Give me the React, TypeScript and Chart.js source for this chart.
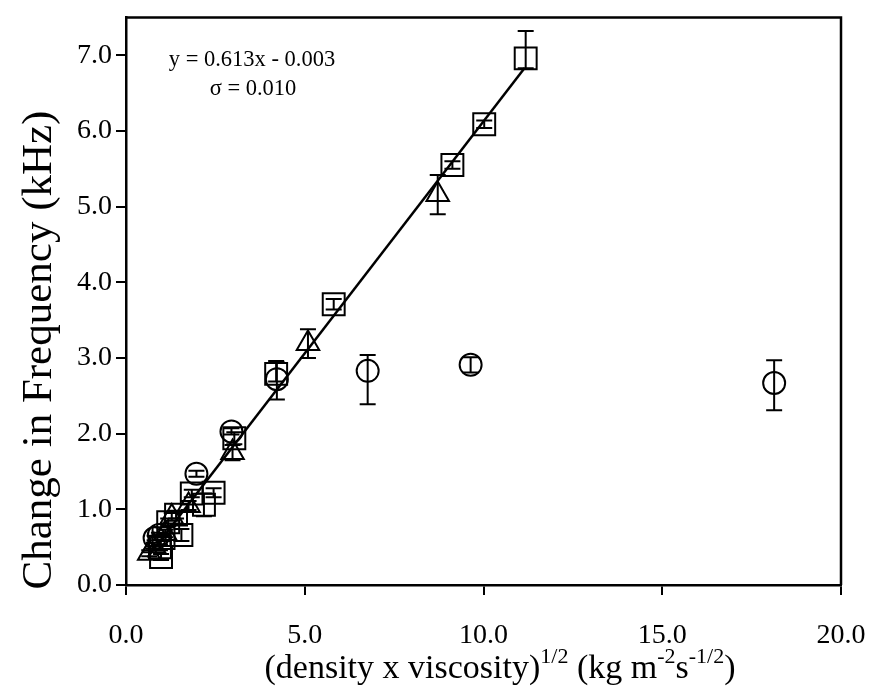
import React, { useEffect, useRef } from "react";
import { Chart, registerables } from "chart.js";

Chart.register(...registerables);

// ---- Data ----
const squareX = [0.98, 0.95, 1.05, 1.18, 1.40, 1.55, 2.18, 1.84, 2.45, 3.03, 4.20, 5.81, 9.13, 10.02, 11.18];
const squareY = [0.37, 0.50, 0.62, 0.83, 0.93, 0.66, 1.06, 1.21, 1.22, 1.94, 2.79, 3.71, 5.55, 6.09, 6.96];
const squareErrLow = [0.04, 0.04, 0.04, 0.05, 0.05, 0.08, 0.15, 0.05, 0.06, 0.08, 0.10, 0.07, 0.05, 0.05, 0.13];
const squareErrHigh = [0.04, 0.04, 0.04, 0.05, 0.05, 0.08, 0.15, 0.05, 0.06, 0.08, 0.17, 0.07, 0.05, 0.05, 0.36];

const circleX = [0.80, 0.92, 1.97, 2.95, 4.22, 6.76, 9.64, 18.13];
const circleY = [0.62, 0.66, 1.47, 2.03, 2.72, 2.83, 2.91, 2.67];
const circleErrLow = [0.03, 0.03, 0.04, 0.04, 0.27, 0.44, 0.10, 0.36];
const circleErrHigh = [0.03, 0.03, 0.04, 0.04, 0.22, 0.21, 0.10, 0.30];

const triangleX = [0.65, 0.78, 1.10, 1.28, 1.75, 2.98, 5.09, 8.72];
const triangleY = [0.42, 0.52, 0.68, 0.90, 1.05, 1.75, 3.19, 5.16];
const triangleErrLow = [0.04, 0.04, 0.05, 0.05, 0.06, 0.10, 0.19, 0.26];
const triangleErrHigh = [0.04, 0.04, 0.05, 0.05, 0.06, 0.10, 0.19, 0.26];

const fitSlope = 0.613;
const fitIntercept = -0.003;
const fitXRange = [0.6, 11.15];

const equationLines = ["y = 0.613x - 0.003", "\u03c3 = 0.010"];
const yTitle = "Change in Frequency (kHz)";
const xTitleParts: { t: string; sup: boolean }[] = [
  { t: "(density x viscosity)", sup: false },
  { t: "1/2", sup: true },
  { t: " (kg m", sup: false },
  { t: "-2", sup: true },
  { t: "s", sup: false },
  { t: "-1/2", sup: true },
  { t: ")", sup: false },
];

const xMin = 0, xMax = 20, xStep = 5;
const yMin = 0, yMax = 7.5, yStep = 1;

const FONT = "'Liberation Serif', 'Times New Roman', serif";

const toPts = (xs: number[], ys: number[]) => xs.map((x, i) => ({ x, y: ys[i] }));

export default function App() {
  const ref = useRef<HTMLCanvasElement | null>(null);

  useEffect(() => {
    if (!ref.current) return;
    const errs: Record<number, { lo: number[]; hi: number[] }> = {
      0: { lo: squareErrLow, hi: squareErrHigh },
      1: { lo: circleErrLow, hi: circleErrHigh },
      2: { lo: triangleErrLow, hi: triangleErrHigh },
    };

    const errorBarPlugin = {
      id: "errorBars",
      afterDatasetsDraw(chart: any) {
        const ctx = chart.ctx;
        const xs = chart.scales.x;
        const ys = chart.scales.y;
        ctx.save();
        ctx.strokeStyle = "#000";
        ctx.lineWidth = 2;
        Object.keys(errs).forEach((k) => {
          const i = Number(k);
          const ds = chart.data.datasets[i];
          ds.data.forEach((p: any, j: number) => {
            const px = xs.getPixelForValue(p.x);
            const top = ys.getPixelForValue(p.y + errs[i].hi[j]);
            const bot = ys.getPixelForValue(p.y - errs[i].lo[j]);
            const cap = 8;
            ctx.beginPath();
            ctx.moveTo(px, top);
            ctx.lineTo(px, bot);
            ctx.moveTo(px - cap, top);
            ctx.lineTo(px + cap, top);
            ctx.moveTo(px - cap, bot);
            ctx.lineTo(px + cap, bot);
            ctx.stroke();
          });
        });
        ctx.restore();
      },
    };

    const decorPlugin = {
      id: "decor",
      afterDraw(chart: any) {
        const ctx = chart.ctx;
        const a = chart.chartArea;
        ctx.save();
        // frame top & right
        ctx.strokeStyle = "#000";
        ctx.lineWidth = 2.5;
        ctx.beginPath();
        ctx.moveTo(a.left, a.top);
        ctx.lineTo(a.right, a.top);
        ctx.lineTo(a.right, a.bottom);
        ctx.stroke();

        // equation
        ctx.fillStyle = "#000";
        ctx.font = `22.5px ${FONT}`;
        ctx.textAlign = "center";
        ctx.textBaseline = "alphabetic";
        ctx.fillText(equationLines[0], 252, 66);
        ctx.fillText(equationLines[1], 253, 95);

        // y title
        ctx.save();
        ctx.translate(40, 350);
        ctx.rotate(-Math.PI / 2);
        ctx.font = `43px ${FONT}`;
        ctx.textAlign = "center";
        ctx.textBaseline = "middle";
        ctx.fillText(yTitle, 0, 0);
        ctx.restore();

        // x title with superscripts
        const mainFont = `34px ${FONT}`;
        const supFont = `22px ${FONT}`;
        let total = 0;
        xTitleParts.forEach((p) => {
          ctx.font = p.sup ? supFont : mainFont;
          total += ctx.measureText(p.t).width;
        });
        let cx = 500 - total / 2;
        const base = 678;
        ctx.textAlign = "left";
        ctx.textBaseline = "alphabetic";
        xTitleParts.forEach((p) => {
          ctx.font = p.sup ? supFont : mainFont;
          ctx.fillText(p.t, cx, p.sup ? base - 15 : base);
          cx += ctx.measureText(p.t).width;
        });
        ctx.restore();
      },
    };

    const fitData = fitXRange.map((x) => ({ x, y: fitSlope * x + fitIntercept }));

    const markerBase = {
      borderColor: "#000",
      backgroundColor: "rgba(0,0,0,0)",
      borderWidth: 2,
      showLine: false,
    };

    const chart = new Chart(ref.current, {
      type: "scatter",
      data: {
        datasets: [
          { ...markerBase, label: "squares", data: toPts(squareX, squareY), pointStyle: "rect", pointRadius: 15.5 },
          { ...markerBase, label: "circles", data: toPts(circleX, circleY), pointStyle: "circle", pointRadius: 11 },
          { ...markerBase, label: "triangles", data: toPts(triangleX, triangleY), pointStyle: "triangle", pointRadius: 13 },
          {
            label: "fit",
            type: "line" as any,
            data: fitData,
            showLine: true,
            borderColor: "#000",
            borderWidth: 2.5,
            pointRadius: 0,
            fill: false,
          },
        ],
      },
      options: {
        animation: false,
        responsive: false,
        maintainAspectRatio: false,
        layout: { padding: { left: 0, top: 14, right: 30, bottom: 0 } },
        plugins: { legend: { display: false }, tooltip: { enabled: false } },
        scales: {
          x: {
            type: "linear",
            min: xMin,
            max: xMax,
            afterFit: (s: any) => {
              s.height = 104;
              s.paddingLeft = 0;
              s.paddingRight = 0;
            },
            ticks: {
              stepSize: xStep,
              includeBounds: false,
              color: "#000",
              font: { family: FONT, size: 28 },
              padding: 24,
              maxRotation: 0,
              callback: (v: any) => Number(v).toFixed(1),
            },
            grid: { display: true, drawOnChartArea: false, drawTicks: true, tickLength: 10, color: "#000", lineWidth: 2 },
            border: { display: true, color: "#000", width: 2.5 },
          },
          y: {
            type: "linear",
            min: yMin,
            max: yMax,
            afterFit: (s: any) => {
              s.width = 126;
              s.paddingTop = 0;
              s.paddingBottom = 0;
            },
            ticks: {
              stepSize: yStep,
              includeBounds: false,
              color: "#000",
              font: { family: FONT, size: 28, lineHeight: 0.8 },
              padding: 4,
              callback: (v: any) => Number(v).toFixed(1),
            },
            grid: { display: true, drawOnChartArea: false, drawTicks: true, tickLength: 10, color: "#000", lineWidth: 2 },
            border: { display: true, color: "#000", width: 2.5 },
          },
        },
      },
      plugins: [errorBarPlugin, decorPlugin],
    });
    return () => chart.destroy();
  }, []);

  return (
    <div style={{ position: "absolute", left: 0, top: 0, width: 871, height: 689, background: "#fff" }}>
      <canvas ref={ref} width={871} height={689} style={{ width: 871, height: 689, display: "block" }} />
    </div>
  );
}
